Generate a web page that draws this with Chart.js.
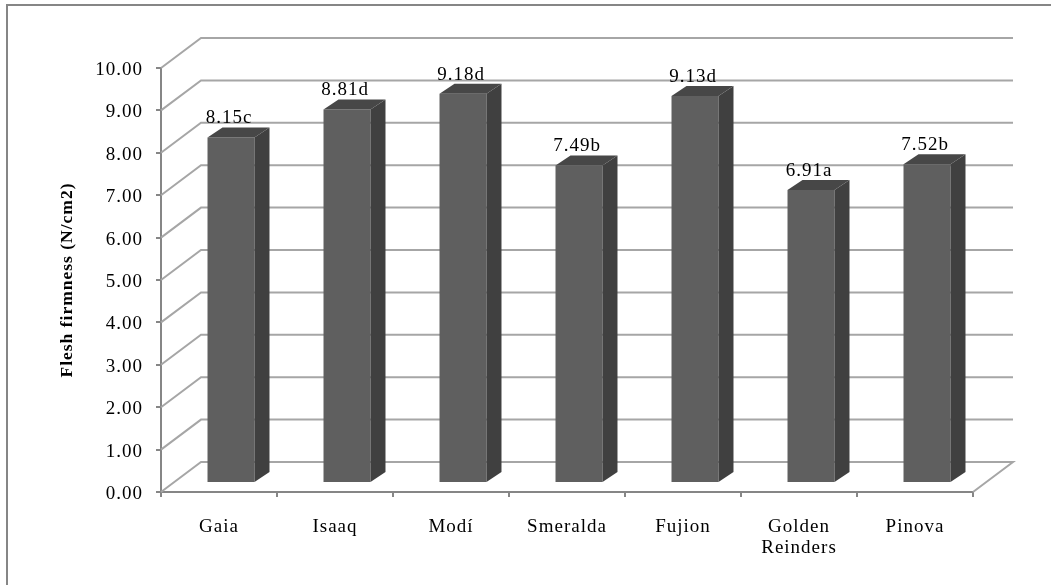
<!DOCTYPE html>
<html>
<head>
<meta charset="utf-8">
<style>
  html, body { margin: 0; padding: 0; background: #fff; }
  #wrap { width: 1051px; height: 585px; }
</style>
<script src="https://cdn.jsdelivr.net/npm/chart.js@4"></script>
</head>
<body>
<div id="wrap"><canvas id="firmness"></canvas></div>
<script>
const cultivars = ['Gaia', 'Isaaq', 'Modí', 'Smeralda', 'Fujion', ['Golden', 'Reinders'], 'Pinova'];
const firmness = [8.15, 8.81, 9.18, 7.49, 9.13, 6.91, 7.52];
const letters = ['c', 'd', 'd', 'b', 'd', 'a', 'b'];
const yTicks = [0, 1, 2, 3, 4, 5, 6, 7, 8, 9, 10];
const yTitle = 'Flesh firmness (N/cm2)';

const GRID = '#a6a6a6';
const AXIS = '#868686';
const SERIF = '"Liberation Serif", serif';
// 3D look: depth of the back wall, of the bars, and where bars stand on the floor
const WALL = { dx: 40, dy: -30 };
const BAR_SHIFT = { dx: 12, dy: -9 };
const BAR_DEPTH = { dx: 15, dy: -10 };

const fake3d = {
    id: 'fake3d',
    beforeDraw(chart) {
        const { ctx, width, height } = chart;
        ctx.save();
        // only the top and left of the outer frame are in the picture
        ctx.strokeStyle = AXIS;
        ctx.lineWidth = 2;
        ctx.beginPath();
        ctx.moveTo(7, height);
        ctx.lineTo(7, 5);
        ctx.lineTo(width, 5);
        ctx.stroke();
        ctx.restore();
        ctx.letterSpacing = '1px';
    },
    beforeDatasetsDraw(chart) {
        const { ctx, chartArea: a, scales: { y } } = chart;
        ctx.save();
        ctx.strokeStyle = GRID;
        ctx.lineWidth = 2;
        yTicks.forEach(t => {
            const py = y.getPixelForValue(t);
            ctx.beginPath();
            ctx.moveTo(a.left, py);
            ctx.lineTo(a.left + WALL.dx, py + WALL.dy);
            ctx.lineTo(a.right + WALL.dx, py + WALL.dy);
            if (t === 0) ctx.lineTo(a.right, py);
            ctx.stroke();
        });
        ctx.restore();
        ctx.save();
        ctx.translate(BAR_SHIFT.dx, BAR_SHIFT.dy);
    },
    afterDatasetsDraw(chart) {
        const { ctx } = chart;
        const d = BAR_DEPTH;
        const labels = [];
        chart.getDatasetMeta(0).data.forEach((bar, i) => {
            const l = bar.x - bar.width / 2, r = bar.x + bar.width / 2;
            ctx.fillStyle = '#404040';
            ctx.beginPath();
            ctx.moveTo(r, bar.y);
            ctx.lineTo(r + d.dx, bar.y + d.dy);
            ctx.lineTo(r + d.dx, bar.base + d.dy);
            ctx.lineTo(r, bar.base);
            ctx.closePath();
            ctx.fill();
            ctx.fillStyle = '#474747';
            ctx.beginPath();
            ctx.moveTo(l, bar.y);
            ctx.lineTo(l + d.dx, bar.y + d.dy);
            ctx.lineTo(r + d.dx, bar.y + d.dy);
            ctx.lineTo(r, bar.y);
            ctx.closePath();
            ctx.fill();
            labels.push({ x: bar.x, y: bar.y, text: firmness[i].toFixed(2) + letters[i] });
        });
        ctx.restore();
        ctx.save();
        ctx.fillStyle = '#000';
        ctx.font = '19px ' + SERIF;
        ctx.textAlign = 'center';
        ctx.textBaseline = 'alphabetic';
        labels.forEach(p => ctx.fillText(p.text, p.x + BAR_SHIFT.dx - 2, p.y + BAR_SHIFT.dy - 14));
        ctx.restore();
    }
};

new Chart(document.getElementById('firmness'), {
    type: 'bar',
    data: {
        labels: cultivars,
        datasets: [{
            data: firmness,
            backgroundColor: '#5f5f5f',
            barPercentage: 0.405,
            categoryPercentage: 1
        }]
    },
    plugins: [fake3d],
    options: {
        responsive: true,
        maintainAspectRatio: false,
        animation: false,
        layout: { padding: { top: 68, right: 78, left: 0, bottom: 0 } },
        plugins: { legend: { display: false }, tooltip: { enabled: false } },
        scales: {
            x: {
                afterFit: s => { s.height = 93; },
                grid: { drawOnChartArea: false, color: AXIS, lineWidth: 2, tickLength: 5 },
                border: { color: AXIS, width: 2 },
                ticks: {
                    color: '#000', padding: 19, maxRotation: 0, autoSkip: false,
                    font: { family: SERIF, size: 19, lineHeight: 1.13 }
                }
            },
            y: {
                min: 0,
                max: 10,
                afterFit: s => { s.width = 161; },
                afterBuildTicks: s => { s.ticks = yTicks.map(v => ({ value: v })); },
                grid: { drawOnChartArea: false, color: AXIS, lineWidth: 2, tickLength: 5 },
                border: { color: AXIS, width: 2 },
                title: {
                    display: true,
                    text: yTitle,
                    color: '#000',
                    padding: { top: 57, bottom: 0 },
                    font: { family: SERIF, size: 17.5, weight: 'bold' }
                },
                ticks: {
                    color: '#000', padding: 13, labelOffset: 2,
                    callback: v => v.toFixed(2),
                    font: { family: SERIF, size: 19 }
                }
            }
        }
    }
});
</script>
</body>
</html>
